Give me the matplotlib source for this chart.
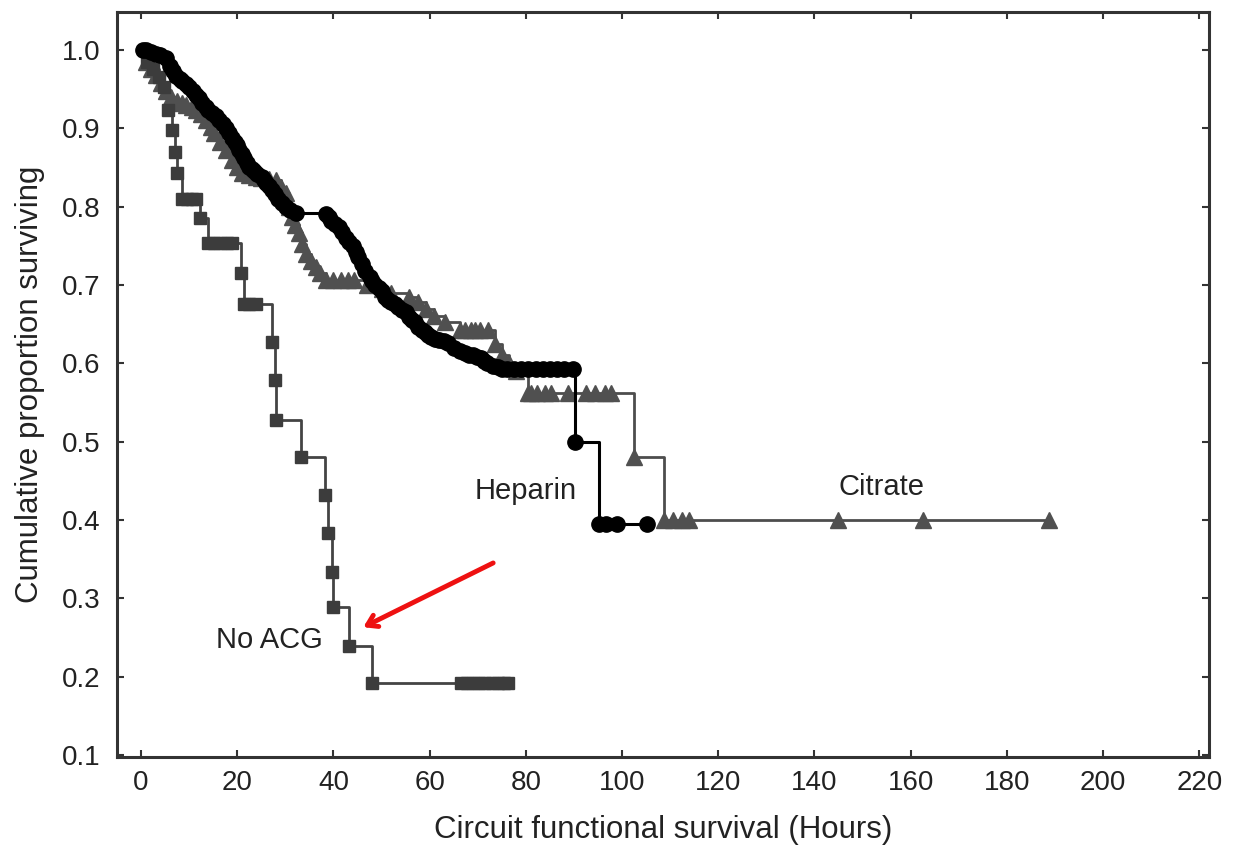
import matplotlib
matplotlib.use("Agg")
import matplotlib.pyplot as plt

plt.rcParams['font.family'] = ['Liberation Sans', 'DejaVu Sans']

# ---------------- data ----------------
heparin_t = [0.3, 1, 2, 3, 4, 5.2, 6, 6.7, 7.3, 8.0, 8.5, 9.3, 10, 10.8, 11.5, 12.1, 12.7,
             13.4, 14, 14.8, 15.6, 16.3, 17, 17.7, 18.3, 19.0, 19.5, 20.0, 20.4, 21.0, 21.5,
             22.0, 22.4, 23.0, 23.5, 24.2, 25.1, 25.6, 26, 26.6, 27.2, 27.8, 28.5, 29.3,
             30.1, 31, 32.2, 38.4, 39.0, 39.5, 40.3, 41.1, 41.8, 42.5, 43.2, 44, 44.6, 45.2,
             45.9, 46.6, 47.5, 48.1, 48.7, 49.4, 50, 50.8, 51.4, 52, 52.8, 53.5, 54.2, 55,
             55.6, 56.3, 57, 57.6, 58.3, 59, 59.6, 60.3, 61.2, 62, 63, 63.8, 65, 66.2, 67.4,
             68.2, 69, 69.8, 70.7, 71.3, 72, 73.1, 74.2, 75, 76, 77.5, 79, 80.5, 82, 83.5,
             85, 86.5, 88, 89.7, 90.3, 95.3, 96.6, 99, 105.2]
heparin_s = [1.0, 1.0, 0.997, 0.995, 0.993, 0.99, 0.98, 0.973, 0.966, 0.963, 0.96, 0.956,
             0.953, 0.948, 0.943, 0.938, 0.932, 0.927, 0.923, 0.919, 0.915, 0.91, 0.905,
             0.9, 0.894, 0.888, 0.883, 0.878, 0.872, 0.867, 0.862, 0.856, 0.851, 0.848,
             0.845, 0.842, 0.838, 0.834, 0.83, 0.826, 0.821, 0.816, 0.81, 0.805, 0.80, 0.796,
             0.792, 0.79, 0.786, 0.782, 0.778, 0.774, 0.767, 0.76, 0.755, 0.75, 0.742, 0.735,
             0.727, 0.718, 0.71, 0.705, 0.70, 0.696, 0.692, 0.685, 0.681, 0.678, 0.675, 0.672,
             0.668, 0.665, 0.659, 0.655, 0.652, 0.646, 0.643, 0.64, 0.636, 0.633, 0.631,
             0.63, 0.628, 0.626, 0.62, 0.616, 0.613, 0.611, 0.61, 0.608, 0.606, 0.603, 0.60,
             0.597, 0.595, 0.593, 0.593, 0.593, 0.593, 0.593, 0.593, 0.593, 0.593, 0.593,
             0.593, 0.593, 0.50, 0.395, 0.395, 0.395, 0.395]

citrate_t = [1.1, 2, 3, 4.2, 5.2, 6.3, 7.5, 8.5, 9.4, 10.5, 11.5, 12.5, 13.5, 14.5, 15.2,
             16.5, 17.7, 18.9, 20, 21, 22.5, 23.9, 25, 26.5, 28, 29, 30.1, 30.8, 31.4, 32.1,
             32.8, 33.5, 34.2, 35.3, 36.3, 37.3, 38.4, 40, 41.5, 43.1, 44.2, 47, 50, 52,
             55.6, 57.5, 59.3, 61, 63.2, 66.3, 67.3, 68.5, 69.5, 70.5, 72.1, 73.5, 75, 76.5,
             78, 80.4, 81, 82.4, 83.9, 85.2, 88.7, 92.4, 94.3, 96.4, 97.6, 102.5, 108.8,
             110.5, 112.5, 114, 144.8, 162.6, 188.7]
citrate_s = [0.985, 0.975, 0.968, 0.958, 0.948, 0.94, 0.935, 0.932, 0.93, 0.927, 0.923,
             0.918, 0.91, 0.902, 0.894, 0.883, 0.872, 0.86, 0.85, 0.843, 0.84, 0.838, 0.836,
             0.835, 0.834, 0.825, 0.817, 0.80, 0.787, 0.776, 0.766, 0.752, 0.74, 0.73, 0.723,
             0.715, 0.706, 0.706, 0.706, 0.706, 0.706, 0.70, 0.695, 0.69, 0.685, 0.678, 0.669,
             0.66, 0.652, 0.642, 0.642, 0.642, 0.642, 0.642, 0.642, 0.625, 0.61, 0.60, 0.59,
             0.562, 0.562, 0.562, 0.562, 0.562, 0.562, 0.562, 0.562, 0.562, 0.562, 0.48,
             0.40, 0.40, 0.40, 0.40, 0.40, 0.40, 0.40]

noacg_t = [1.2, 2.5, 3.8, 4.8, 5.7, 6.5, 7.0, 7.5, 8.6, 9.5, 10.5, 11.4, 12.2, 14.0, 15.2,
           16.5, 17.8, 18.8, 20.8, 21.5, 22.5, 23.8, 27.2, 27.8, 28.0, 33.3, 38.3, 38.8,
           39.6, 39.9, 43.3, 48.1, 66.5, 67.8, 69.0, 70.3, 71.6, 72.9, 74.2, 75.5, 76.3]
noacg_s = [0.985, 0.975, 0.965, 0.952, 0.923, 0.898, 0.87, 0.843, 0.81, 0.81, 0.81, 0.81,
           0.785, 0.753, 0.753, 0.753, 0.753, 0.753, 0.715, 0.676, 0.676, 0.676, 0.627,
           0.579, 0.527, 0.48, 0.432, 0.383, 0.333, 0.289, 0.239, 0.192, 0.192, 0.192,
           0.192, 0.192, 0.192, 0.192, 0.192, 0.192, 0.192]

x_ticks = [0, 20, 40, 60, 80, 100, 120, 140, 160, 180, 200, 220]
y_ticks = [0.1, 0.2, 0.3, 0.4, 0.5, 0.6, 0.7, 0.8, 0.9, 1.0]

# ---------------- figure ----------------
fig = plt.figure(figsize=(12.37, 8.47), dpi=100)
ax = fig.add_axes([0.0946, 0.106, 0.8827, 0.880])

ax.plot([0] + heparin_t, [1.0] + heparin_s, drawstyle='steps-post', color='#000000',
        lw=2.2, zorder=3)
ax.plot(heparin_t, heparin_s, ls='none', marker='o', ms=11, color='#000000', zorder=4)

ax.plot([0] + citrate_t, [1.0] + citrate_s, drawstyle='steps-post', color='#4d4d4d',
        lw=2.0, zorder=2)
ax.plot(citrate_t, citrate_s, ls='none', marker='^', ms=11, color='#505050', zorder=2.5)

ax.plot([0] + noacg_t, [1.0] + noacg_s, drawstyle='steps-post', color='#444444',
        lw=2.0, zorder=2)
ax.plot(noacg_t, noacg_s, ls='none', marker='s', ms=8.5, color='#3c3c3c', zorder=2.5)

ax.set_xlim(-5, 222)
ax.set_ylim(0.097, 1.0485)
ax.set_xticks(x_ticks)
ax.set_xticklabels([str(v) for v in x_ticks])
ax.set_yticks(y_ticks)
ax.set_yticklabels([f"{v:.1f}" for v in y_ticks])

for s in ax.spines.values():
    s.set_linewidth(2.2)
    s.set_color('#333333')
ax.tick_params(direction='in', length=5, width=1.5, color='#333333',
               top=True, right=True, labelcolor='#222222')
ax.tick_params(axis='y', labelsize=20, pad=12)
ax.tick_params(axis='x', labelsize=20, pad=9)

ax.set_xlabel('Circuit functional survival (Hours)', fontsize=22.5, color='#222222',
              labelpad=14)
ax.set_ylabel('Cumulative proportion surviving', fontsize=22.5, color='#222222',
              labelpad=12)

ax.text(80, 0.437, 'Heparin', fontsize=21, ha='center', va='center', color='#222222')
ax.text(154, 0.442, 'Citrate', fontsize=21, ha='center', va='center', color='#222222')
ax.text(26.6, 0.246, 'No ACG', fontsize=21, ha='center', va='center', color='#222222')

ax.annotate('', xy=(46.2, 0.263), xytext=(73.2, 0.345),
            arrowprops=dict(arrowstyle='->,head_length=0.7,head_width=0.45',
                            color='#ee1111', lw=3.5, shrinkA=0, shrinkB=0))

fig.savefig('out.png', dpi=100)
